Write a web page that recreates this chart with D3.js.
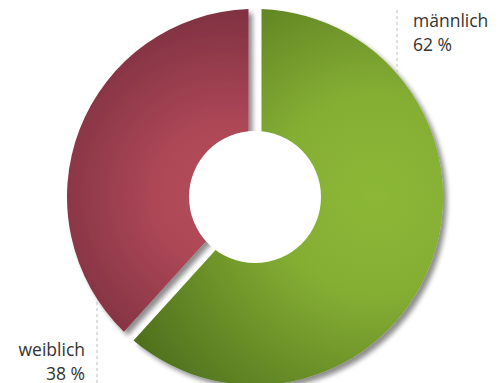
<!DOCTYPE html>
<html>
<head>
<meta charset="utf-8">
<script src="https://cdn.jsdelivr.net/npm/d3@7"></script>
<style>
  html, body { margin: 0; padding: 0; background: #fff; }
  svg { display: block; }
</style>
</head>
<body>
<svg id="chart" width="503" height="383"></svg>
<script>
// Geschlechterverteilung
const categories = ["männlich", "weiblich"];
const values = [62, 38];
const valueLabels = ["62 %", "38 %"];

const width = 503, height = 383;
const cx = 255, cy = 197;
const outerR = 188, innerR = 40, holeR = 66;

const svg = d3.select("#chart");
const defs = svg.append("defs");

// soft drop shadow under the slices
const f = defs.append("filter").attr("id", "shadow")
  .attr("x", "-20%").attr("y", "-20%").attr("width", "140%").attr("height", "140%");
f.append("feGaussianBlur").attr("in", "SourceAlpha").attr("stdDeviation", 2.6).attr("result", "b");
f.append("feOffset").attr("in", "b").attr("dx", 4).attr("dy", 4).attr("result", "o");
f.append("feComponentTransfer").attr("in", "o").attr("result", "s")
  .append("feFuncA").attr("type", "linear").attr("slope", 0.45);
const m = f.append("feMerge");
m.append("feMergeNode").attr("in", "s");
m.append("feMergeNode").attr("in", "SourceGraphic");

// radial shading per slice
const shades = [
  { id: "gMale", cx: 375, cy: 195, r: 290, stops: [["0%", "#8cb837"], ["35%", "#84ae33"], ["100%", "#4c6c1c"]] },
  { id: "gFemale", cx: 225, cy: 195, r: 200, stops: [["0%", "#b44b5b"], ["35%", "#ad4757"], ["100%", "#7a2f3f"]] }
];
shades.forEach(s => {
  const g = defs.append("radialGradient").attr("id", s.id)
    .attr("gradientUnits", "userSpaceOnUse")
    .attr("cx", s.cx - cx).attr("cy", s.cy - cy).attr("r", s.r);
  s.stops.forEach(([o, c]) => g.append("stop").attr("offset", o).attr("stop-color", c));
});

const pie = d3.pie().sort(null).value(d => d)
  .padAngle(2 * Math.asin(6.5 / outerR));
const arc = d3.arc().innerRadius(innerR).outerRadius(outerR).padRadius(outerR);

const g = svg.append("g").attr("transform", `translate(${cx},${cy})`);
g.selectAll("path.slice")
  .data(pie(values))
  .join("path")
  .attr("class", "slice")
  .attr("d", arc)
  .attr("fill", (d, i) => `url(#${shades[i].id})`)
  .attr("filter", "url(#shadow)");

// center hole
g.append("circle").attr("r", holeR).attr("fill", "#fff");

// labels with dashed leader lines
const labelFont = "'Open Sans', 'Noto Sans', sans-serif";
const labels = [
  { x: 413, y1: 27, y2: 51, anchor: "start", lx: 397, ly1: 10, ly2: 72 },
  { x: 85, y1: 356, y2: 380, anchor: "end", lx: 97, ly1: 302, ly2: 383 }
];
labels.forEach((L, i) => {
  svg.append("line")
    .attr("x1", L.lx).attr("x2", L.lx).attr("y1", L.ly1).attr("y2", L.ly2)
    .attr("stroke", "#bdbdbd").attr("stroke-width", 1).attr("stroke-dasharray", "3,3");
  svg.append("text").attr("x", L.x).attr("y", L.y1).attr("text-anchor", L.anchor)
    .attr("font-family", labelFont).attr("font-size", 17.5).attr("fill", "#333")
    .text(categories[i]);
  svg.append("text").attr("x", L.x).attr("y", L.y2).attr("text-anchor", L.anchor)
    .attr("font-family", labelFont).attr("font-size", 17.5).attr("fill", "#333")
    .text(valueLabels[i]);
});
</script>
</body>
</html>
